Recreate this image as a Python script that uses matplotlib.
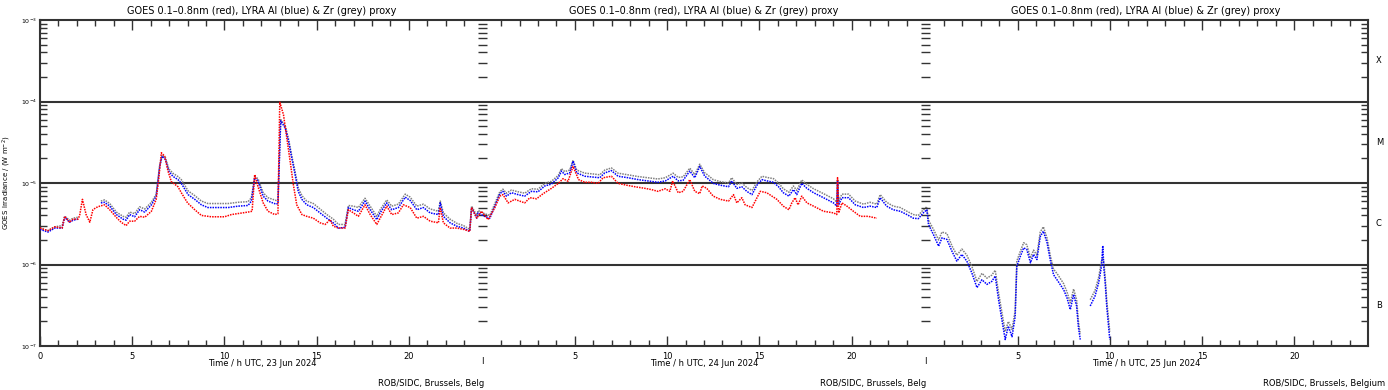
import numpy as np
import matplotlib
matplotlib.use("Agg")
import matplotlib.pyplot as plt

nan = float("nan")

# hours since 23 Jun 2024 00 UTC, flux in units of 1e-6 W/m^2
t_goes = [0.0, 0.43, 0.8, 1.2, 1.34, 1.6, 1.8, 2.06, 2.15, 2.3, 2.5, 2.7, 2.87, 3.05, 3.24,
          3.5, 3.78, 4.13, 4.4, 4.67, 4.86, 5.13, 5.4, 5.68, 6.04, 6.3, 6.43, 6.58, 6.76, 6.94,
          7.12, 7.48, 7.66, 8.0, 8.39, 8.75, 9.29, 10.0, 10.38, 11.28, 11.5, 11.64, 11.82, 12.1,
          12.36, 12.73, 12.9, 13.0, 13.2, 13.38, 13.56, 13.74, 13.92, 14.2, 14.46, 14.82, 15.18,
          15.46, 15.73, 15.9, 16.18, 16.54, 16.72, 16.99, 17.26, 17.62, 17.9, 18.26, 18.44, 18.8,
          19.07, 19.43, 19.7, 20.07, 20.43, 20.79, 21.15, 21.6, 21.7, 21.87, 22.23, 22.6, 22.96,
          23.3, 23.4, 23.68, 23.93, 24.3, 24.66, 24.93, 25.1, 25.38, 25.74, 26.28, 26.56, 26.92,
          27.28, 27.73, 28.1, 28.36, 28.63, 28.9, 29.2, 29.54, 29.9, 30.26, 30.53, 30.98, 31.34,
          31.8, 32.25, 32.8, 33.15, 33.5, 33.9, 34.15, 34.3, 34.6, 34.87, 35.23, 35.5, 35.77,
          35.9, 36.15, 36.5, 36.88, 37.33, 37.6, 37.78, 38.05, 38.23, 38.6, 38.87, 39.05, 39.4,
          39.68, 39.95, 40.3, 40.6, 40.76, 40.94, 41.1, 41.3, 41.58, 41.94, 42.48, 43.02, 43.2,
          43.24, 43.3, 43.48, 43.75, 44.1, 44.47, 44.9, 45.37]
goes = [2.8, 2.6, 2.9, 2.8, 3.9, 3.3, 3.6, 3.6, 4.0, 6.3, 4.1, 3.3, 4.7, 5.0, 5.2,
        5.4, 4.7, 3.8, 3.3, 3.0, 3.4, 3.4, 3.9, 3.8, 4.5, 6.3, 10.9, 23.5, 21.3, 14.0,
        10.4, 9.0, 7.6, 5.7, 4.7, 4.0, 3.85, 3.85, 4.1, 4.4, 4.5, 12.7, 9.0, 5.7,
        4.5, 4.1, 4.2, 98.0, 69.0, 36.0, 18.6, 9.4, 5.4, 4.1, 3.9, 3.7, 3.25,
        3.1, 3.55, 2.95, 2.8, 2.8, 4.7, 4.3, 3.9, 5.4, 4.1, 3.1, 3.7, 5.2,
        4.1, 4.3, 5.4, 5.0, 3.7, 3.9, 3.4, 3.25, 5.0, 3.25, 2.8, 2.8, 2.7,
        2.55, 5.0, 3.7, 4.5, 3.55, 5.0, 6.9, 7.2, 5.7, 6.3, 5.7, 6.6, 6.4,
        7.4, 8.6, 9.9, 11.3, 10.5, 16.0, 11.0, 10.2, 10.2, 9.9, 11.6, 12.1, 9.9,
        9.4, 9.0, 8.6, 8.3, 7.9, 8.5, 7.9, 10.6, 7.6, 7.9, 11.0, 7.9, 7.4,
        9.2, 8.6, 6.9, 6.3, 6.0, 7.2, 5.7, 6.6, 5.4, 5.0, 6.6, 7.9, 7.6,
        6.9, 6.3, 5.2, 4.7, 5.7, 6.6, 5.4, 6.9, 5.7, 5.2, 4.5, 4.3, 4.1,
        11.6, 4.3, 5.7, 5.2, 4.5, 3.9, 3.9, 3.7]

t_lyra = [0.0, 0.43, 0.8, 1.2, 1.34, 1.6, 1.8, 2.06, 2.7,
          3.3, 3.5, 3.78, 4.14, 4.5, 4.67, 4.86, 5.13, 5.4, 5.68, 6.04, 6.3, 6.49, 6.62, 6.8,
          6.98, 7.2, 7.48, 7.66, 8.03, 8.39, 8.75, 9.1, 9.65, 10.2, 10.74, 11.28, 11.46, 11.64,
          11.82, 12.1, 12.36, 12.8, 12.9,
          13.05, 13.3, 13.47, 13.65, 13.83, 14.0, 14.2, 14.46, 14.82, 15.18, 15.55, 15.9, 16.18,
          16.54, 16.72, 16.99, 17.26, 17.62, 17.9, 18.26, 18.44, 18.8, 19.07, 19.43, 19.8, 20.07,
          20.43, 20.79, 21.15, 21.6, 21.7, 21.87, 22.23, 22.6, 22.96, 23.3,
          23.4, 23.68, 23.75, 24.1, 24.39, 24.66, 24.93, 25.1, 25.29, 25.56, 25.92, 26.28, 26.64,
          27.0, 27.37, 27.73, 28.1, 28.27, 28.45, 28.72, 28.9, 29.1, 29.54, 30.0, 30.35, 30.62,
          30.98, 31.34, 31.89, 32.43, 32.97, 33.5, 33.9, 34.33, 34.6, 34.87, 35.23, 35.5, 35.77,
          36.04, 36.15, 36.5, 36.88, 37.33, 37.5, 37.78, 38.05, 38.32, 38.6, 38.87, 39.14, 39.5,
          39.77, 40.04, 40.3, 40.6, 40.85, 41.03, 41.3, 41.58, 41.94, 42.48, 43.02, 43.2, 43.24,
          43.3, 43.48, 43.84, 44.2, 44.65, 45.0, 45.37, 45.55, 45.9, 46.26, 46.64, 47.0, 47.35,
          47.62, 47.89, 48.08,
          48.17, 48.44, 48.72, 48.9, 49.17, 49.44, 49.71, 49.98, 50.25, 50.52, 50.8, 51.07, 51.34,
          51.6, 51.79, 51.97, 52.15, 52.33, 52.5, 52.7, 52.87, 52.96, 53.15, 53.33, 53.5, 53.7,
          53.87, 54.05, 54.23, 54.4, 54.6, 54.77, 54.95, 55.2, 55.5, 55.68, 55.86, 56.04, 56.2,
          56.3, 56.4, 56.7,
          56.94, 57.2, 57.4, 57.55, 57.62, 57.68, 57.75, 57.84, 58.0]
lyra_al = [2.7, 2.5, 2.8, 2.8, 3.8, 3.3, 3.5, 3.6, nan,
           5.7, 5.8, 5.2, 4.1, 3.6, 3.5, 4.1, 3.85, 4.7, 4.4, 5.4, 6.9, 16.0, 21.3, 19.4,
           14.0, 12.1, 11.0, 9.9, 7.2, 6.3, 5.4, 5.0, 5.0, 5.0, 5.2, 5.3, 6.0, 11.6,
           10.6, 6.9, 6.0, 5.5, 5.6,
           58.0, 47.0, 33.0, 20.3, 12.7, 7.9, 6.3, 5.4, 5.0, 4.3, 3.7, 3.25, 2.8,
           2.85, 5.0, 4.7, 4.5, 6.0, 4.7, 3.55, 4.3, 5.7, 4.7, 5.0, 6.7, 6.1,
           4.7, 5.0, 4.3, 4.1, 5.7, 3.9, 3.25, 2.95, 2.8, 2.55,
           5.0, 3.7, 4.3, 3.9, 3.7, 5.2, 7.4, 7.9, 6.9, 7.6, 7.2, 6.9, 7.9,
           7.8, 9.2, 9.7, 11.6, 14.0, 12.7, 13.3, 18.6, 13.3, 12.1, 11.8, 11.6, 13.3,
           14.2, 12.1, 11.6, 11.0, 10.6, 10.2, 10.6, 12.1, 10.6, 10.8, 14.0, 11.6, 16.0,
           12.1, 11.6, 9.9, 9.4, 9.0, 10.6, 8.6, 9.0, 7.9, 7.2, 9.4, 11.0, 10.5,
           10.2, 9.0, 7.6, 6.9, 8.3, 7.2, 9.9, 8.6, 7.6, 6.6, 5.7, 5.2, 10.6,
           5.4, 6.6, 6.6, 5.4, 5.0, 5.2, 5.0, 6.6, 5.2, 4.7, 4.5, 4.1, 3.7,
           3.65, 4.3, 4.7,
           3.1, 2.33, 1.68, 2.12, 2.03, 1.46, 1.1, 1.33, 1.1, 0.79, 0.52, 0.65, 0.57,
           0.62, 0.72, 0.37, 0.21, 0.12, 0.175, 0.13, 0.23, 0.95, 1.26, 1.6, 1.53, 1.05,
           1.33, 1.15, 2.2, 2.56, 1.85, 1.15, 0.75, 0.62, 0.49, 0.39, 0.28, 0.43, 0.31,
           0.17, 0.12, nan,
           0.31, 0.41, 0.6, 0.95, 1.7, 0.9, 0.6, 0.3, 0.12]
lyra_zr = [2.8, 2.6, 2.9, 3.0, 3.9, 3.5, 3.7, 3.8, nan,
           6.0, 6.2, 5.6, 4.4, 3.9, 3.8, 4.4, 4.2, 5.1, 4.8, 5.8, 7.3, 16.5, 22.0, 20.5,
           15.0, 13.2, 12.0, 11.0, 8.0, 7.0, 6.0, 5.6, 5.6, 5.6, 5.8, 5.9, 6.6, 12.0,
           11.3, 7.6, 6.6, 6.1, 6.2,
           60.0, 50.0, 35.0, 21.5, 13.8, 8.7, 7.0, 6.0, 5.6, 4.8, 4.1, 3.6, 3.1,
           3.1, 5.3, 5.2, 5.0, 6.5, 5.2, 3.9, 4.7, 6.2, 5.2, 5.5, 7.3, 6.7,
           5.2, 5.5, 4.8, 4.5, 6.0, 4.3, 3.6, 3.2, 3.0, 2.7,
           5.2, 4.0, 4.6, 4.2, 4.0, 5.6, 7.8, 8.4, 7.5, 8.2, 7.8, 7.5, 8.5,
           8.4, 9.9, 10.5, 12.4, 15.0, 13.8, 14.4, 19.0, 14.4, 13.2, 12.9, 12.6, 14.4,
           15.3, 13.2, 12.6, 12.0, 11.6, 11.2, 11.6, 13.2, 11.7, 11.9, 15.2, 12.7, 17.0,
           13.3, 12.8, 11.0, 10.4, 10.0, 11.6, 9.6, 10.0, 8.8, 8.1, 10.3, 12.1, 11.6,
           11.3, 10.0, 8.5, 7.7, 9.2, 8.1, 10.9, 9.6, 8.5, 7.4, 6.4, 5.8, 11.0,
           6.0, 7.3, 7.3, 6.0, 5.5, 5.8, 5.5, 7.2, 5.8, 5.2, 5.0, 4.5, 4.1,
           4.0, 4.7, 5.1,
           3.5, 2.7, 2.0, 2.5, 2.4, 1.7, 1.3, 1.55, 1.3, 0.95, 0.62, 0.78, 0.68,
           0.74, 0.85, 0.45, 0.26, 0.15, 0.2, 0.16, 0.27, 1.1, 1.45, 1.85, 1.75, 1.2,
           1.5, 1.3, 2.5, 2.9, 2.1, 1.3, 0.88, 0.74, 0.58, 0.46, 0.34, 0.5, 0.37,
           0.2, 0.14, nan,
           0.37, 0.48, 0.7, 1.1, 1.2, 1.05, 0.7, 0.35, 0.15]

days = ["23 Jun 2024", "24 Jun 2024", "25 Jun 2024"]
day_ticks = [0, 5, 10, 15, 20]
flare_classes = ["X", "M", "C", "B"]

W, H = 1388, 390
fig = plt.figure(figsize=(W / 100, H / 100), dpi=100)
x0, x1, ytop, ybot = 40, 1368, 20, 346
ax = fig.add_axes([x0 / W, 1 - ybot / H, (x1 - x0) / W, (ybot - ytop) / H])
ax.set_xlim(0, 72)
ax.set_yscale("log")
ax.set_ylim(1e-7, 1e-3)

ink = "#333333"
for d in [1e-4, 1e-5, 1e-6]:
    ax.axhline(d, color=ink, lw=1.5, zorder=1)

# dense dotted look, like the per-minute points of the original
sc = 1e-6
dots = (0, (1, 0.7))
ax.plot(t_lyra, np.array(lyra_zr) * sc, color="#808080", lw=1.1, ls=dots, zorder=2)
ax.plot(t_lyra, np.array(lyra_al) * sc, color="#0000ff", lw=1.1, ls=dots, zorder=3)
ax.plot(t_goes, np.array(goes) * sc, color="#ff0000", lw=1.1, ls=dots, zorder=4)

# x ticks: one 24 h block per day
major = []
labels = []
for i in range(3):
    for h in day_ticks:
        if i > 0 and h == 0:
            continue
        major.append(24 * i + h)
        labels.append(str(h))
ax.set_xticks(major)
ax.set_xticklabels(labels, fontsize=6)
ax.set_xticks([h for h in range(1, 72) if h not in major and h not in (24, 48)], minor=True)
ax.tick_params(axis="x", which="both", direction="in", top=True, bottom=True,
               color=ink, pad=4)
ax.tick_params(axis="x", which="major", length=7, width=1)
ax.tick_params(axis="x", which="minor", length=4, width=1)
for xd in (24, 48):
    ax.text(xd, -0.035, "I", transform=ax.get_xaxis_transform(), ha="center", va="top",
            fontsize=6)

# y ticks
ax.set_yticks([1e-7, 1e-6, 1e-5, 1e-4, 1e-3])
ax.set_yticklabels(["$10^{-7}$", "$10^{-6}$", "$10^{-5}$", "$10^{-4}$", "$10^{-3}$"],
                   fontsize=4.5)
minors = [m * 10.0 ** e for e in range(-7, -3) for m in range(2, 10)]
ax.set_yticks(minors, minor=True)
ax.tick_params(axis="y", which="both", direction="in", left=True, right=True, color=ink,
               pad=2)
ax.tick_params(axis="y", which="major", length=0)
ax.tick_params(axis="y", which="minor", length=5, width=1, labelleft=False)
for xd in (24, 48):
    ax.hlines(minors, xd - 0.26, xd + 0.26, color=ink, lw=1)

for sp in ax.spines.values():
    sp.set_color(ink)
    sp.set_linewidth(1.5)

for k, c in enumerate(flare_classes):
    ax.text(1 + 8 / (x1 - x0), 10.0 ** (-3.5 - k), c,
            transform=ax.get_yaxis_transform(), fontsize=6, ha="left", va="center")

ax.set_ylabel("GOES Irradiance / (W m$^{-2}$)", fontsize=5, labelpad=6)

centres = [262, 704, 1146]
starts = [378, 820, 1263]
credits = ["ROB/SIDC, Brussels, Belg", "ROB/SIDC, Brussels, Belg", "ROB/SIDC, Brussels, Belgium"]
for i in range(3):
    fig.text(centres[i] / W, 1 - 11 / H,
             "GOES 0.1\u20130.8nm (red), LYRA Al (blue) & Zr (grey) proxy",
             ha="center", va="center", fontsize=7)
    fig.text(centres[i] / W, 1 - 364 / H, "Time / h UTC, " + days[i],
             ha="center", va="center", fontsize=6)
    fig.text(starts[i] / W, 1 - 384 / H, credits[i], ha="left", va="center", fontsize=6)

fig.savefig("out.png", dpi=100)
